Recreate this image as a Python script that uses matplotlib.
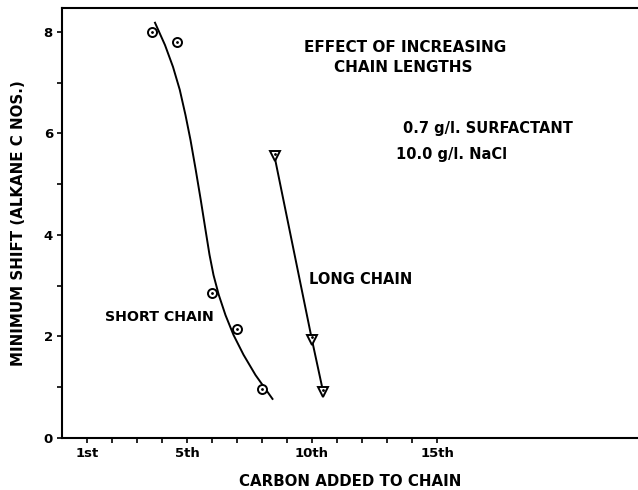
import numpy as np
import matplotlib
matplotlib.use("Agg")
import matplotlib.pyplot as plt

# measured points (carbon number, minimum shift)
short_x = [3.6, 4.6, 6.0, 7.0, 8.0]
short_y = [8.0, 7.8, 2.85, 2.15, 0.97]

# hand-drawn fit through the short chain points
short_curve_x = [3.72, 4.12, 4.44, 4.71, 4.94, 5.14, 5.35, 5.55, 5.74,
                 5.90, 6.06, 6.27, 6.54, 6.86, 7.26, 7.74, 8.16, 8.42]
short_curve_y = [8.18, 7.74, 7.31, 6.86, 6.36, 5.87, 5.28, 4.69, 4.10,
                 3.61, 3.21, 2.82, 2.42, 2.03, 1.64, 1.24, 0.95, 0.77]

long_x = [8.5, 10.0, 10.45]
long_y = [5.55, 1.93, 0.9]

x_ticks = list(range(1, 16))
x_labels = {1: "1st", 5: "5th", 10: "10th", 15: "15th"}
y_ticks = list(range(0, 9))
y_labels = {0: "0", 2: "2", 4: "4", 6: "6", 8: "8"}

FONT = dict(family="DejaVu Sans", fontweight="bold")

fig = plt.figure(figsize=(6.38, 4.9), dpi=100)
ax = fig.add_axes([62 / 638, 52 / 490, 576 / 638, 430 / 490])

ax.plot(short_curve_x, short_curve_y, color="black", lw=1.4, zorder=2,
        solid_joinstyle="round")
ax.plot(short_x, short_y, ls="none", marker="o", ms=6.5, mfc="white",
        mec="black", mew=1.4, zorder=3)
ax.plot(short_x, short_y, ls="none", marker=".", ms=2, color="black", zorder=4)

ax.plot(long_x, long_y, color="black", lw=1.4, zorder=2)
ax.plot(long_x, long_y, ls="none", marker="v", ms=7, mfc="white",
        mec="black", mew=1.4, zorder=3)
ax.plot(long_x, [v + 0.05 for v in long_y], ls="none", marker=".", ms=2,
        color="black", zorder=4)

ax.set_xlim(0, 23.04)
ax.set_ylim(0, 8.47)

ax.set_xticks(x_ticks)
ax.set_xticklabels([x_labels.get(t, "") for t in x_ticks])
ax.set_yticks(y_ticks)
ax.set_yticklabels([y_labels.get(t, "") for t in y_ticks])
ax.tick_params(direction="out", length=3.5, width=1.2, pad=3, labelsize=9.5)
for lab in ax.get_xticklabels() + ax.get_yticklabels():
    lab.set_fontweight("bold")

ax.spines["right"].set_visible(False)
for s in ("left", "bottom", "top"):
    ax.spines[s].set_linewidth(1.5)

ax.set_xlabel("CARBON ADDED TO CHAIN", fontsize=10.8, labelpad=10, **FONT)
ax.set_ylabel("MINIMUM SHIFT (ALKANE C NOS.)", fontsize=10.8, labelpad=13, **FONT)

def label(px, py, text, size, ha="left"):
    # positions given in figure pixels
    fig.text(px / 638, 1 - py / 490, text, ha=ha, va="center", fontsize=size, **FONT)

label(405, 47, "EFFECT OF INCREASING", 11, ha="center")
label(403, 68, "CHAIN LENGTHS", 11, ha="center")
label(403, 128, "0.7 g/l. SURFACTANT", 10.5)
label(396, 155, "10.0 g/l. NaCl", 10.5)
label(309, 280, "LONG CHAIN", 10.5)
label(105, 317, "SHORT CHAIN", 10.2)

fig.savefig("out.png", dpi=100)
